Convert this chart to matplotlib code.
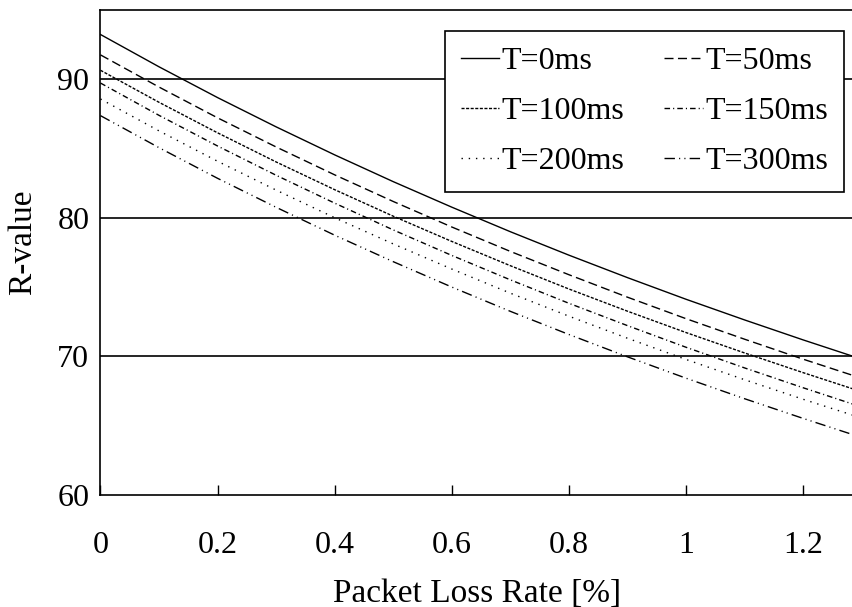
import matplotlib
matplotlib.use("Agg")
import matplotlib.pyplot as plt

# Packet loss rate [%] at which each curve is tabulated
loss_rate = [0.0, 0.1, 0.2, 0.3, 0.4, 0.5, 0.6, 0.7, 0.8, 0.9, 1.0, 1.1, 1.2, 1.285]

# R-value for each added delay T
r_t0 = [93.20, 90.87, 88.65, 86.54, 84.52, 82.59, 80.75, 78.98, 77.29, 75.67, 74.11, 72.62, 71.18, 70.00]
r_t50 = [91.73, 89.41, 87.19, 85.09, 83.08, 81.16, 79.32, 77.56, 75.88, 74.26, 72.71, 71.23, 69.79, 68.62]
r_t100 = [90.62, 88.31, 86.11, 84.01, 82.01, 80.10, 78.28, 76.53, 74.85, 73.25, 71.71, 70.24, 68.82, 67.65]
r_t150 = [89.70, 87.37, 85.16, 83.05, 81.04, 79.11, 77.27, 75.51, 73.82, 72.21, 70.65, 69.16, 67.73, 66.55]
r_t200 = [88.55, 86.25, 84.06, 81.98, 79.99, 78.10, 76.29, 74.55, 72.89, 71.30, 69.77, 68.31, 66.90, 65.75]
r_t300 = [87.35, 85.04, 82.83, 80.74, 78.73, 76.82, 74.99, 73.24, 71.57, 69.96, 68.42, 66.94, 65.52, 64.35]

series_labels = ["T=0ms", "T=50ms", "T=100ms", "T=150ms", "T=200ms", "T=300ms"]
x_ticks = [0, 0.2, 0.4, 0.6, 0.8, 1.0, 1.2]
x_tick_labels = ["0", "0.2", "0.4", "0.6", "0.8", "1", "1.2"]
y_ticks = [60, 70, 80, 90]

plt.rcParams["font.family"] = ["Liberation Serif", "DejaVu Serif"]
plt.rcParams["font.size"] = 23

fig = plt.figure(figsize=(8.53, 6.07), dpi=100)
ax = fig.add_axes([0.1178, 0.1845, 0.8822, 0.7998])

styles = [
    "-",
    (0, (6.5, 3.2)),
    (0, (2.2, 1.1)),
    (0, (4.0, 2.2, 0.8, 2.2)),
    (0, (1.0, 4.2)),
    (0, (7.5, 3.0, 0.8, 3.0, 0.8, 3.0)),
]
all_series = [r_t0, r_t50, r_t100, r_t150, r_t200, r_t300]

lines = []
for vals, ls, lab in zip(all_series, styles, series_labels):
    (ln,) = ax.plot(loss_rate, vals, color="black", lw=1.0, linestyle=ls, label=lab, zorder=3)
    lines.append(ln)

# horizontal reference lines
for yv in y_ticks[1:]:
    ax.axhline(yv, color="black", lw=1.2, zorder=2)

ax.set_xlim(0, 1.285)
ax.set_ylim(60, 95)
ax.set_xticks(x_ticks)
ax.set_xticklabels(x_tick_labels)
ax.set_yticks(y_ticks)

ax.tick_params(axis="x", direction="in", length=7, width=1.0, pad=26, labelsize=23)
ax.tick_params(axis="y", length=0, pad=8, labelsize=23)

for side in ["left", "bottom", "top"]:
    ax.spines[side].set_linewidth(1.2)
    ax.spines[side].set_color("black")
ax.spines["right"].set_visible(False)

ax.set_xlabel("Packet Loss Rate [%]", fontsize=24, labelpad=13)
ax.set_ylabel("R-value", fontsize=24)
ax.yaxis.set_label_coords(-0.083, 0.52)

order = [0, 2, 4, 1, 3, 5]
leg = ax.legend(
    [lines[i] for i in order],
    [series_labels[i] for i in order],
    ncol=2,
    loc="upper right",
    bbox_to_anchor=(0.988, 0.9557),
    frameon=True,
    fancybox=False,
    edgecolor="black",
    framealpha=1.0,
    fontsize=23,
    handlelength=1.2,
    handletextpad=0.08,
    columnspacing=1.25,
    labelspacing=0.64,
    borderpad=0.5,
    borderaxespad=0.0,
)
leg.get_frame().set_linewidth(1.2)
leg.set_zorder(5)

fig.savefig("out.png", dpi=100)
